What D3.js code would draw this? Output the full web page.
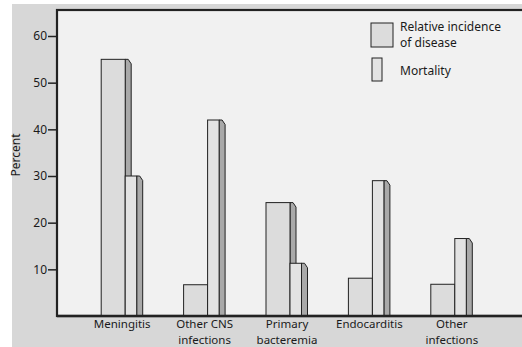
<!DOCTYPE html>
<html>
<head>
<meta charset="utf-8">
<script src="https://cdn.jsdelivr.net/npm/d3@7"></script>
<style>
  body { margin: 0; background: #fff; }
  svg { display: block; }
  text { font-family: "Noto Sans", sans-serif; fill: #1a1a1a; }
</style>
</head>
<body>
<div id="chart"></div>
<script>
// values
const categories = [["Meningitis"], ["Other CNS", "infections"], ["Primary", "bacteremia"], ["Endocarditis"], ["Other", "infections"]]
const incidence = [55, 6.7, 24.3, 8.1, 6.8]
const mortality = [30, 42, 11.3, 29, 16.6]
const yTicks = [10, 20, 30, 40, 50, 60]

const width = 522, height = 347
const frame = { left: 57, top: 10, bottom: 316 }

const svg = d3.select('#chart')
    .append('svg')
    .attr('width', width)
    .attr('height', height)

// outer gray paper + light plot area
svg.append('rect')
    .attr('x', 12).attr('y', 4)
    .attr('width', width).attr('height', height)
    .attr('fill', '#d7d7d7')
svg.append('rect')
    .attr('x', frame.left).attr('y', frame.top)
    .attr('width', width).attr('height', frame.bottom - frame.top)
    .attr('fill', '#f1f1f1')
    .attr('stroke', '#222')
    .attr('stroke-width', 2.2)

const y = d3.scaleLinear()
    .domain([0, 60])
    .range([frame.bottom, 36])

const x = d3.scaleBand()
    .domain(d3.range(categories.length))
    .range([84, 496])

// y axis ticks
const yAxis = svg.append('g')
    .attr('transform', `translate(${frame.left},0)`)
    .call(d3.axisLeft(y).tickValues(yTicks).tickSize(9).tickSizeOuter(0))
yAxis.select('.domain').remove()
yAxis.selectAll('line').attr('stroke', '#222').attr('stroke-width', 1.5)
yAxis.selectAll('text')
    .attr('font-size', 12)
    .attr('font-family', '"Noto Sans", sans-serif')
    .attr('fill', '#1a1a1a')
    .attr('x', -10)

svg.append('text')
    .attr('transform', `translate(20,155) rotate(-90)`)
    .attr('text-anchor', 'middle')
    .attr('font-size', 12)
    .text('Percent')

const incW = 24, morW = 11.5, depth = 6

// bar with a little 3D side on the right
const drawBar = (x0, w, v, fill) => {
    const top = y(v), bot = y(0), x1 = x0 + w
    svg.append('path')
        .attr('d', `M${x1},${top}L${x1 + 3},${top}L${x1 + depth},${top + 4.5}L${x1 + depth},${bot}L${x1},${bot}Z`)
        .attr('fill', '#a9a9a9')
        .attr('stroke', '#222')
        .attr('stroke-width', 1)
    svg.append('rect')
        .attr('x', x0).attr('y', top)
        .attr('width', w).attr('height', bot - top)
        .attr('fill', fill)
        .attr('stroke', '#222')
        .attr('stroke-width', 1)
}

categories.forEach((c, i) => {
    const mid = x(i) + x.bandwidth() / 2
    drawBar(mid - incW, incW, incidence[i], '#dcdcdc')
    drawBar(mid, morW, mortality[i], '#e3e3e3')
    c.forEach((line, j) => {
        svg.append('text')
            .attr('x', mid - 3)
            .attr('y', 328 + j * 16)
            .attr('text-anchor', 'middle')
            .attr('font-size', 11.5)
            .text(line)
    })
})

// baseline
svg.append('line')
    .attr('x1', frame.left).attr('x2', width)
    .attr('y1', y(0)).attr('y2', y(0))
    .attr('stroke', '#222')
    .attr('stroke-width', 2.5)

// legend
const legend = svg.append('g')
legend.append('rect')
    .attr('x', 371).attr('y', 23).attr('width', 22).attr('height', 24)
    .attr('fill', '#dcdcdc').attr('stroke', '#222')
legend.append('rect')
    .attr('x', 372).attr('y', 58).attr('width', 10).attr('height', 23)
    .attr('fill', '#e3e3e3').attr('stroke', '#222')
const legendText = [["Relative incidence", 30.5], ["of disease", 47], ["Mortality", 75]]
legendText.forEach(t => {
    legend.append('text')
        .attr('x', 400).attr('y', t[1])
        .attr('font-size', 12)
        .text(t[0])
})
</script>
</body>
</html>
